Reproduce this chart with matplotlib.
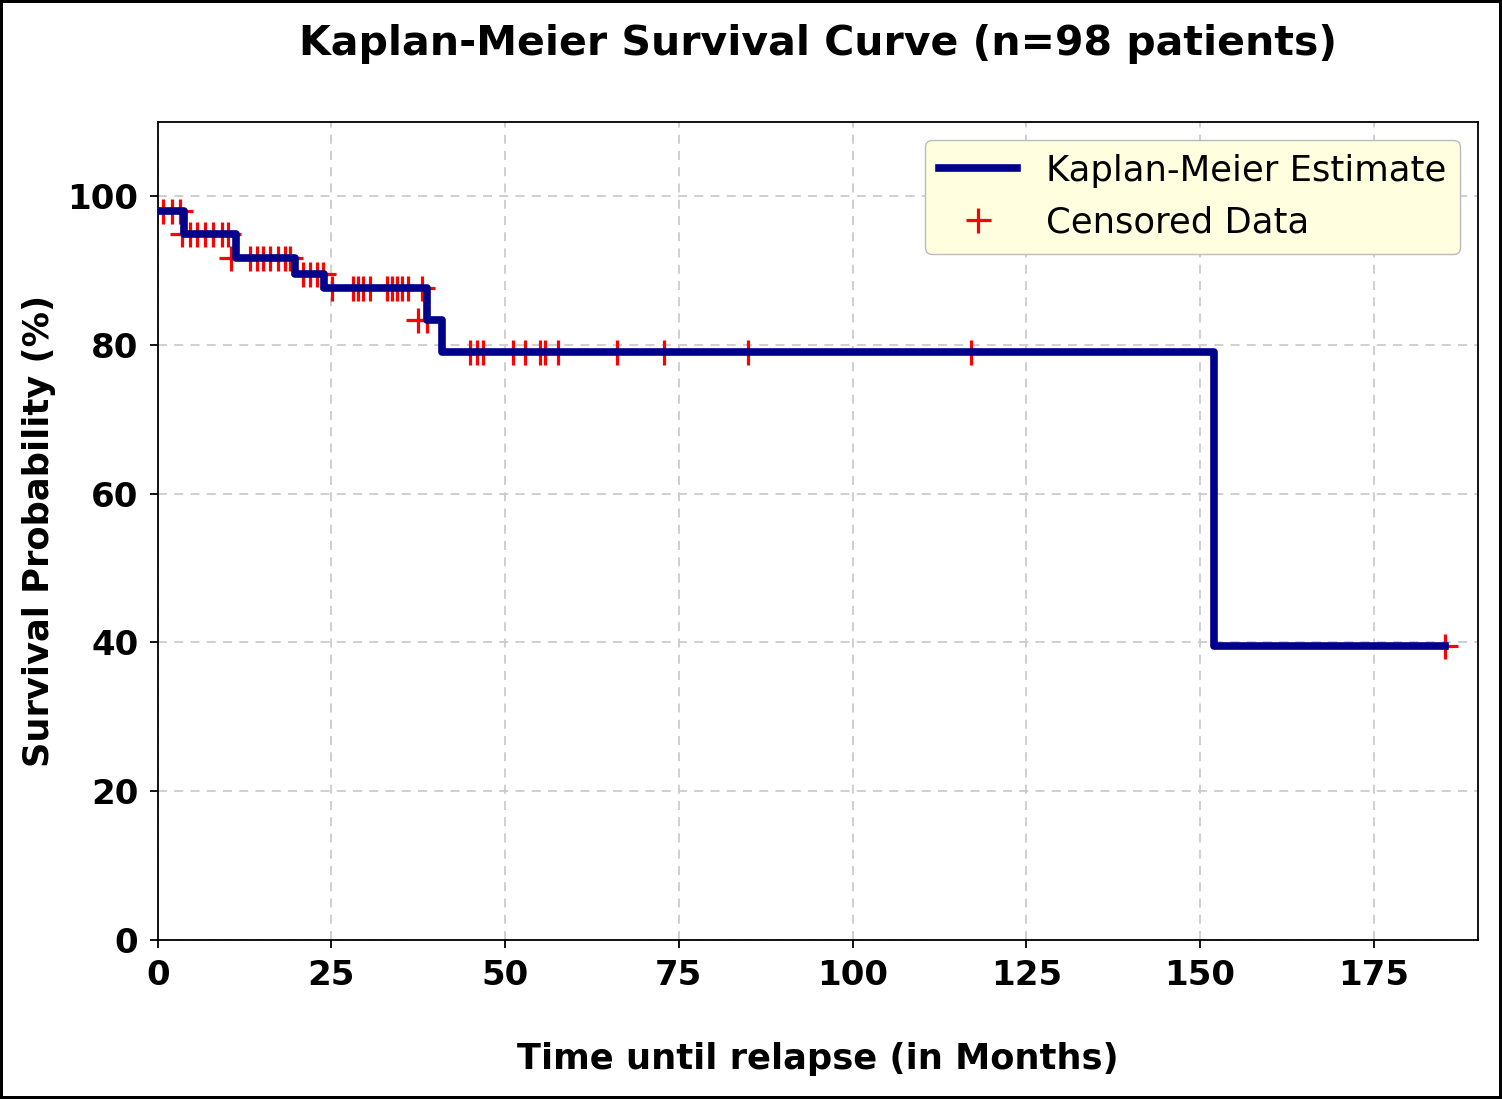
import matplotlib
matplotlib.use('Agg')
import matplotlib.pyplot as plt

# step curve of the Kaplan-Meier estimate (months, %)
step_times = [0, 3.8, 11.3, 19.7, 24.0, 38.8, 40.9, 152.0, 185.2]
step_surv = [98.0, 94.9, 91.7, 89.6, 87.6, 83.3, 79.0, 39.5, 39.5]

# censored observations (months, % at that time)
cens_times = [0.7, 2.0, 3.2, 3.5,
              4.6, 5.6, 6.8, 7.9, 9.2, 10.1,
              10.6, 13.3, 14.3, 15.1, 16.1, 17.3, 18.3, 19.0,
              20.9, 21.9, 22.9, 23.8,
              25.1, 28.1, 28.8, 29.5, 30.5, 33.0, 33.7, 34.4, 35.2, 36.0, 38.0,
              37.5, 38.7,
              45.0, 46.0, 46.8, 51.2, 52.9, 55.0, 55.8, 57.6,
              66.1, 72.8, 85.0, 117.0,
              185.2]
cens_surv = [98.0, 98.0, 98.0, 94.9,
             94.9, 94.9, 94.9, 94.9, 94.9, 94.9,
             91.7, 91.7, 91.7, 91.7, 91.7, 91.7, 91.7, 91.7,
             89.6, 89.6, 89.6, 89.6,
             87.6, 87.6, 87.6, 87.6, 87.6, 87.6, 87.6, 87.6, 87.6, 87.6, 87.6,
             83.3, 83.3,
             79.0, 79.0, 79.0, 79.0, 79.0, 79.0, 79.0, 79.0,
             79.0, 79.0, 79.0, 79.0,
             39.5]

fig = plt.figure(figsize=(15.02, 10.99), dpi=100, linewidth=4, edgecolor='black')
ax = fig.add_axes([0.105, 0.145, 0.879, 0.744])

ax.step(step_times, step_surv, where='post', color='darkblue', linewidth=5.5,
        label='Kaplan-Meier Estimate', zorder=3)
ax.plot(cens_times, cens_surv, '+', color='red', ms=18, mew=2.3,
        label='Censored Data', zorder=2)

ax.set_xlim(0, 190)
ax.set_ylim(0, 110)
ax.set_xticks([0, 25, 50, 75, 100, 125, 150, 175])
ax.set_yticks([0, 20, 40, 60, 80, 100])
ax.grid(True, ls=(0, (5, 4)), color='#cccccc', linewidth=1.3)

for lab in ax.get_xticklabels() + ax.get_yticklabels():
    lab.set_fontweight('bold')
ax.tick_params(labelsize=24.5, length=6, width=1.3, pad=8)
for s in ax.spines.values():
    s.set_linewidth(1.3)

ax.set_title('Kaplan-Meier Survival Curve (n=98 patients)', fontsize=29.5,
             fontweight='bold', pad=48)
ax.set_xlabel('Time until relapse (in Months)', fontsize=25.4, fontweight='bold', labelpad=36)
ax.set_ylabel('Survival Probability (%)', fontsize=25.4, fontweight='bold', labelpad=8)

leg = ax.legend(loc='upper right', fontsize=25.5, facecolor='#ffffe0',
                edgecolor='#bbbbbb', framealpha=1, handlelength=2.2)

plt.savefig('out.png', dpi=100)
plt.close()
